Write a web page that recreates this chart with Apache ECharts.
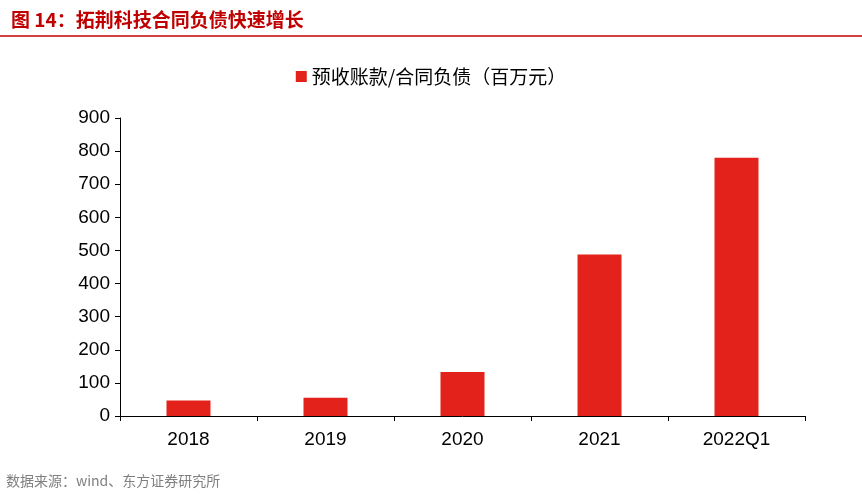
<!DOCTYPE html>
<html><head><meta charset="utf-8">
<script src="https://cdn.jsdelivr.net/npm/echarts@6/dist/echarts.min.js"></script>
<style>html,body{margin:0;padding:0;background:#fff}#c{width:862px;height:495px}</style>
</head><body><div id="c"></div>
<script>
var categories = ['2018', '2019', '2020', '2021', '2022Q1'];
var values = [47, 55, 133, 488, 780];
var seriesName = '预收账款/合同负债（百万元）';

var chart = echarts.init(document.getElementById('c'));
chart.setOption({
    animation: false,
    textStyle: {fontFamily: 'Noto Sans CJK SC'},
    title: {
        text: '图 14：拓荆科技合同负债快速增长',
        left: 6, top: 5,
        textStyle: {color: '#c00000', fontSize: 19, fontWeight: 'bold'}
    },
    graphic: [
        {type: 'line', shape: {x1: 0, y1: 36, x2: 862, y2: 36}, style: {stroke: '#c00000', lineWidth: 1.5}},
        {type: 'text', left: 6, top: 474, style: {text: '数据来源：wind、东方证券研究所', fill: '#7f7f7f', fontSize: 14, fontFamily: 'Noto Sans CJK SC'}}
    ],
    legend: {
        top: 62, left: 'center',
        itemWidth: 11, itemHeight: 11,
        textStyle: {fontSize: 19, color: '#000'},
        data: [{name: seriesName, icon: 'rect'}]
    },
    grid: {left: 120, right: 57, top: 118, bottom: 79},
    xAxis: {
        type: 'category', data: categories,
        axisLine: {lineStyle: {color: '#000'}},
        axisTick: {show: true, alignWithLabel: false, lineStyle: {color: '#000'}},
        axisLabel: {color: '#000', fontSize: 19, margin: 14, fontFamily: 'Liberation Sans'}
    },
    yAxis: {
        type: 'value', min: 0, max: 900, interval: 100,
        axisLine: {show: true, lineStyle: {color: '#000'}},
        axisTick: {show: true, lineStyle: {color: '#000'}},
        splitLine: {show: false},
        axisLabel: {color: '#000', fontSize: 19, margin: 10, fontFamily: 'Liberation Sans'}
    },
    series: [{
        name: seriesName, type: 'bar', data: values,
        barWidth: 44, itemStyle: {color: '#e3221b'}
    }]
});
</script></body></html>
